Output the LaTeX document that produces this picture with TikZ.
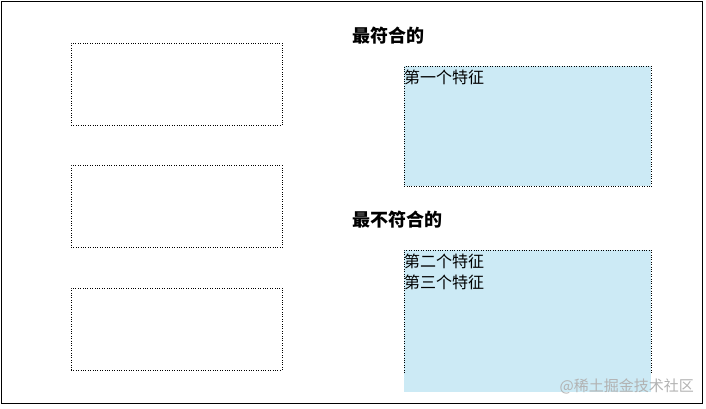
\documentclass[tikz,border=0pt]{standalone}
\usepackage{fontspec}
\setmainfont{Noto Sans CJK SC}
\usetikzlibrary{positioning}

\tikzset{
    slot/.style={draw, dotted, minimum width=211pt, minimum height=82pt, inner sep=0pt},
    pile/.style={fill=pileblue, minimum width=247pt, inner sep=0pt},
    heading/.style={anchor=west, inner sep=0pt, font=\fontsize{18}{20}\selectfont\bfseries},
    item/.style={anchor=north west, inner sep=0pt, align=left, font=\fontsize{16}{20.5}\selectfont}
}
\definecolor{pileblue}{RGB}{204,234,245}

\begin{document}
\begin{tikzpicture}[x=1pt, y=-1pt]
    \useasboundingbox (0,0) rectangle (706,408);

    % Draw the outer frame
    \draw[line width=0.8pt] (1,1) rectangle (702,403);

    % Draw the empty slots on the left
    \node[slot] (s1) at (176.5,84) {};
    \node[slot, below=40pt of s1] (s2) {};
    \node[slot, below=40pt of s2] (s3) {};

    % Draw the two piles on the right
    \node[heading] (hbest) at (352,36) {最符合的};
    \node[pile, draw, dotted, minimum height=120pt, anchor=north west] (best) at (404,66) {};
    \node[item] (f1) at ([yshift=-4pt]best.north west) {第一个特征};

    \node[heading] (hworst) at (352,220) {最不符合的};
    \node[pile, minimum height=142pt, anchor=north west] (worst) at (404,250) {};
    \draw[dotted] ([yshift=20pt]worst.south west) |- (worst.north east) -- ([yshift=20pt]worst.south east);
    \node[item] (f2) at ([yshift=-4pt]worst.north west) {第二个特征\\第三个特征};

    % Label the watermark
    \node[anchor=east, inner sep=0pt, text=black!30, font=\fontsize{15}{17}\selectfont] (mark) at (694,386) {@稀土掘金技术社区};

\end{tikzpicture}
\end{document}
